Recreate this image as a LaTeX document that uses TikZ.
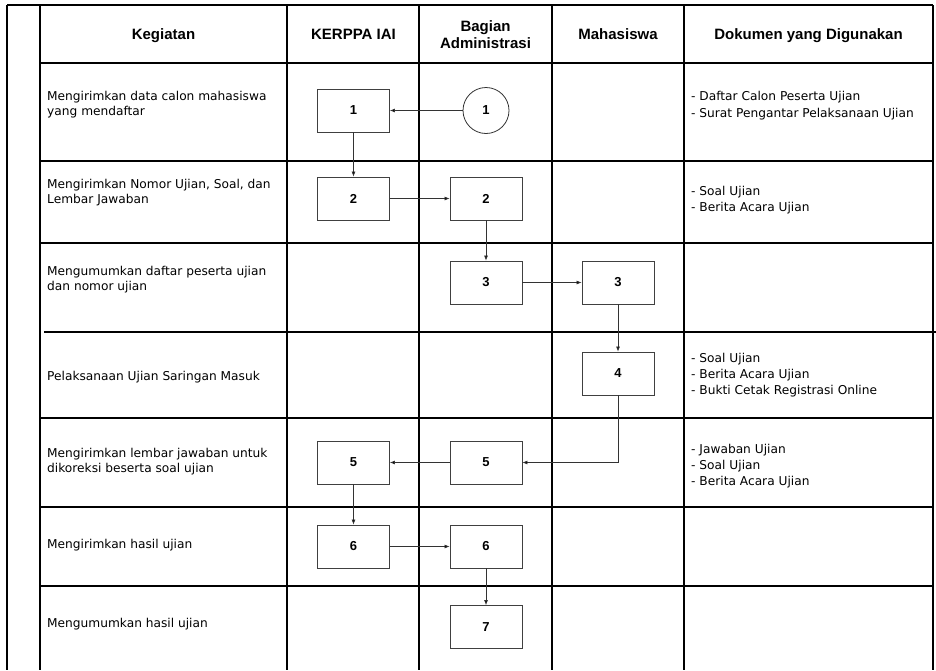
\documentclass[tikz,border=0pt]{standalone}
\usepackage{fontspec}
\setmainfont{DejaVu Sans}
\newfontfamily\judulfont{Liberation Sans}
\usetikzlibrary{
    arrows.meta
}
\tikzset{
    >={Latex[length=5pt,width=4pt]},
    garis/.style={
        line width=1.3pt
    },
    proses/.style={
        draw=black!75,
        line width=0.8pt,
        minimum width=72pt,
        minimum height=43pt,
        inner sep=0pt,
        font=\judulfont\bfseries\fontsize{13}{15}\selectfont
    },
    konektor/.style={
        circle,
        draw=black!80,
        line width=0.8pt,
        minimum size=46pt,
        inner sep=0pt,
        font=\judulfont\bfseries\fontsize{13}{15}\selectfont
    },
    judul/.style={
        align=center,
        inner sep=0pt,
        font=\judulfont\bfseries\fontsize{15}{16.5}\selectfont
    },
    teks/.style={
        anchor=west,
        align=left,
        inner sep=0pt,
        font=\fontsize{12.2}{14.5}\selectfont
    },
    dokumen/.style={
        teks,
        font=\fontsize{12.2}{16.2}\selectfont
    },
    alur/.style={
        draw=black!80,
        line width=0.7pt
    }
}

\begin{document}
\begin{tikzpicture}[
    x=1pt,
    y=-1pt
]
    \useasboundingbox (0,0) rectangle (936,670);

    % Tabel
    \draw[garis] (7,5) -- (7,670);
    \draw[garis] (7,5) -- (933,5);
    \draw[garis] (40,5) -- (40,670);
    \draw[garis] (287,5) -- (287,670);
    \draw[garis] (419,5) -- (419,670);
    \draw[garis] (552,5) -- (552,670);
    \draw[garis] (684,5) -- (684,670);
    \draw[garis] (933,5) -- (933,670);
    \draw[garis] (40,63) -- (933,63);
    \draw[garis] (40,161) -- (933,161);
    \draw[garis] (40,243) -- (933,243);
    \draw[garis] (44,332) -- (936,332);
    \draw[garis] (40,418) -- (933,418);
    \draw[garis] (40,507) -- (933,507);
    \draw[garis] (40,586) -- (933,586);

    % Kepala tabel
    \node[judul, anchor=base] (hKegiatan) at (163.5,39.5) {Kegiatan};
    \node[judul, anchor=base] (hKerppa)   at (353.5,39.5) {KERPPA IAI};
    \node[judul]              (hBagian)   at (485.5,34.4) {Bagian\\Administrasi};
    \node[judul, anchor=base] (hMhs)      at (618,39.5)   {Mahasiswa};
    \node[judul, anchor=base] (hDokumen)  at (808.5,39.5) {Dokumen yang Digunakan};

    % Kegiatan
    \node[teks] (k1) at (47,104.7) {Mengirimkan data calon mahasiswa\\yang mendaftar};
    \node[teks] (k2) at (47,192.4) {Mengirimkan Nomor Ujian, Soal, dan\\Lembar Jawaban};
    \node[teks] (k3) at (47,279.4) {Mengumumkan daftar peserta ujian\\dan nomor ujian};
    \node[teks] (k4) at (47,376.8) {Pelaksanaan Ujian Saringan Masuk};
    \node[teks] (k5) at (47,461.4) {Mengirimkan lembar jawaban untuk\\dikoreksi beserta soal ujian};
    \node[teks] (k6) at (47,544.8) {Mengirimkan hasil ujian};
    \node[teks] (k7) at (47,623.8) {Mengumumkan hasil ujian};

    % Dokumen
    \node[dokumen] (d1) at (691,105.7) {- Daftar Calon Peserta Ujian\\- Surat Pengantar Pelaksanaan Ujian};
    \node[dokumen] (d2) at (691,200.2) {- Soal Ujian\\- Berita Acara Ujian};
    \node[dokumen] (d4) at (691,375.2) {- Soal Ujian\\- Berita Acara Ujian\\- Bukti Cetak Registrasi Online};
    \node[dokumen] (d5) at (691,466.4) {- Jawaban Ujian\\- Soal Ujian\\- Berita Acara Ujian};

    % Proses
    \node[konektor] (c1)  at (486,110.5)   {1};
    \node[proses]   (p1)  at (353.5,110.5) {1};
    \node[proses]   (p2k) at (353.5,198.5) {2};
    \node[proses]   (p2b) at (486,198.5)   {2};
    \node[proses]   (p3b) at (486,282.5)   {3};
    \node[proses]   (p3m) at (618,282.5)   {3};
    \node[proses]   (p4)  at (618,373.5)   {4};
    \node[proses]   (p5b) at (486,462.5)   {5};
    \node[proses]   (p5k) at (353.5,462.5) {5};
    \node[proses]   (p6k) at (353.5,546.5) {6};
    \node[proses]   (p6b) at (486,546.5)   {6};
    \node[proses]   (p7)  at (486,627)     {7};

    % Alur
    \path[->, alur]
        (c1)  edge (p1)
        (p1)  edge (p2k)
        (p2k) edge (p2b)
        (p2b) edge (p3b)
        (p3b) edge (p3m)
        (p3m) edge (p4)
        (p4)  edge[to path={|- (\tikztotarget)}] (p5b)
        (p5b) edge (p5k)
        (p5k) edge (p6k)
        (p6k) edge (p6b)
        (p6b) edge (p7);

\end{tikzpicture}
\end{document}
